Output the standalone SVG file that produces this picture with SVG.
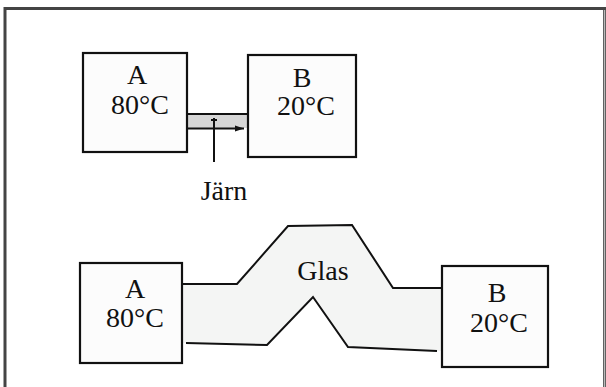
<svg xmlns="http://www.w3.org/2000/svg" width="606" height="387" viewBox="0 0 606 387">
<defs>
<style>
.box{fill:#fcfcfc;stroke:#111;stroke-width:2.2}
.t{font-family:'Liberation Serif','DejaVu Serif',serif;font-size:28px;fill:#111;text-anchor:middle}
.ln{stroke:#111;stroke-width:2;fill:none}
</style>
<marker id="ah" markerWidth="10" markerHeight="8" refX="9" refY="4" orient="auto" markerUnits="userSpaceOnUse">
<path d="M0,1 L9,4 L0,7 Z" fill="#111"/>
</marker>
</defs>
<rect width="606" height="387" fill="#fff"/>
<path d="M5,390 V8.5 H604.5 V390" fill="none" stroke="#444" stroke-width="3"/>
<path d="M604.5,10 V390" stroke="#bbb" stroke-width="1.5"/>
<g id="connectors">
<rect x="187" y="114" width="61" height="14" fill="#d6d6d6"/>
<line class="ln" x1="187" y1="114" x2="248" y2="114"/>
<line class="ln" x1="187" y1="128.5" x2="244" y2="128.5" marker-end="url(#ah)"/>
<line class="ln" x1="214" y1="118" x2="214" y2="162" stroke-width="1.5"/>
<line class="ln" x1="211" y1="120" x2="217" y2="120" stroke-width="1.2"/>
<path d="M183,284 L237,284 L288,226 L352,225 L393,288 L441,288 L441,351 L437,351 L348,347 L313,297 L267,345 L186,343 L183,343 Z" fill="#f4f5f4"/>
<path class="ln" d="M183,284 L237,284 L288,226 L352,225 L393,288 L441,288"/>
<path class="ln" d="M186,343 L267,345 L313,297 L348,347 L437,351"/>
</g>
<g id="iron-label"><text class="t" x="224" y="200">Järn</text></g>
<g id="glass-label"><text class="t" x="323" y="280">Glas</text></g>
<g id="A-top">
<rect class="box" x="83" y="53" width="104" height="99"/>
<text class="t" x="137" y="84">A</text>
<text class="t" x="140" y="114">80°C</text>
</g>
<g id="B-top">
<rect class="box" x="248" y="55" width="108" height="102"/>
<text class="t" x="302" y="87">B</text>
<text class="t" x="306" y="115">20°C</text>
</g>
<g id="A-bottom">
<rect class="box" x="80" y="263" width="102" height="100"/>
<text class="t" x="135" y="298">A</text>
<text class="t" x="135" y="327">80°C</text>
</g>
<g id="B-bottom">
<rect class="box" x="442" y="266" width="106" height="101"/>
<text class="t" x="497" y="302">B</text>
<text class="t" x="499" y="332">20°C</text>
</g>
</svg>
